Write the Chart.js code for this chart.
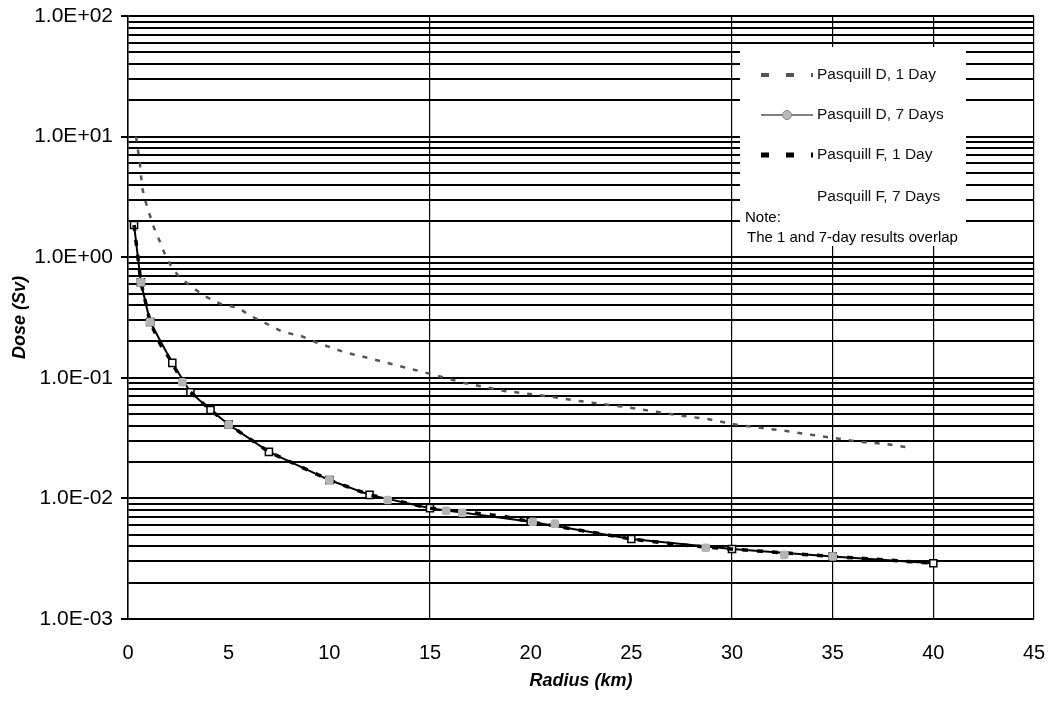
<!DOCTYPE html>
<html>
<head>
<meta charset="utf-8">
<script src="https://cdn.jsdelivr.net/npm/chart.js@4.4.1/dist/chart.umd.min.js"></script>
<style>
  html, body { margin: 0; padding: 0; background: #fff; }
  #chart { display: block; }
</style>
</head>
<body>
<canvas id="chart" width="1051" height="716"></canvas>
<script>
// Pasquill D, 1 Day (upper curve)
const radiusD1 = [0.4, 0.6, 0.7, 0.85, 1.05, 1.3, 1.55, 1.85, 2.2, 2.6, 3.2, 3.7, 4.6, 5.5, 6, 6.8, 7.7, 8.6, 9.4, 10.7, 12, 13.5, 15, 16.7, 18.7, 20.4, 22.4, 24.7, 27.6, 28.8, 30.3, 32.7, 34, 36.4, 37.6, 38.9];
const doseD1 = [10, 5.8, 3.8, 2.98, 2.32, 1.74, 1.39, 1.04, 0.81, 0.67, 0.566, 0.486, 0.41, 0.38, 0.332, 0.285, 0.24, 0.222, 0.195, 0.164, 0.145, 0.125, 0.108, 0.0906, 0.0778, 0.072, 0.0642, 0.0573, 0.0482, 0.0455, 0.0406, 0.0362, 0.0336, 0.0294, 0.0283, 0.0262];

// Pasquill D, 7 Days (solid line, open squares)
const radiusD7 = [0.3, 0.64, 1.1, 2.2, 3.1, 4.1, 5, 7, 10, 12, 15, 20, 25, 30, 35, 40];
const doseD7 = [1.85, 0.62, 0.29, 0.133, 0.076, 0.054, 0.041, 0.0243, 0.0142, 0.0107, 0.0083, 0.0064, 0.0046, 0.0038, 0.0033, 0.0029];

// Pasquill F, 1 Day (black dashes)
const radiusF1 = [0.3, 0.64, 1.1, 1.6, 2.2, 2.7, 3.1, 4.1, 5, 7, 10, 12, 15, 18.7, 20, 25, 27.6, 30, 35, 37.5, 40];
const doseF1 = [1.85, 0.62, 0.29, 0.19, 0.133, 0.092, 0.076, 0.054, 0.041, 0.0243, 0.0142, 0.0107, 0.0083, 0.0071, 0.0064, 0.0046, 0.0041, 0.0038, 0.0033, 0.0031, 0.0029];

// Pasquill F, 7 Days (grey markers)
const radiusF7 = [0.64, 1.1, 2.7, 5, 10, 12.9, 15.8, 16.6, 20.1, 21.2, 28.7, 32.6, 35];
const doseF7 = [0.62, 0.29, 0.092, 0.041, 0.0142, 0.0097, 0.0079, 0.0076, 0.0064, 0.0062, 0.0039, 0.0034, 0.0033];

const seriesLabels = ['Pasquill D, 1 Day', 'Pasquill D, 7 Days', 'Pasquill F, 1 Day', 'Pasquill F, 7 Days'];
const noteLines = ['Note:', 'The 1 and 7-day results overlap'];

const radiusTicks = [0, 5, 10, 15, 20, 25, 30, 35, 40, 45];
// vertical grid lines that survive in the original figure
const radiusGridShown = [0, 15, 30, 35, 40, 45];
const doseDecades = [1e-3, 1e-2, 1e-1, 1e0, 1e1, 1e2];
const doseTicks = [];
doseDecades.forEach((d, i) => {
  for (let m = 1; m <= 9; m++) {
    if (m > 1 && i === doseDecades.length - 1) break;
    doseTicks.push(Number((m * d).toPrecision(3)));
  }
});

const toXY = (xs, ys) => xs.map((x, i) => ({ x, y: ys[i] }));
const isDecade = (v) => Math.abs(Math.log10(v) - Math.round(Math.log10(v))) < 1e-6;
const fmtSci = (v) => {
  const e = Math.round(Math.log10(v));
  return '1.0E' + (e < 0 ? '-' : '+') + String(Math.abs(e)).padStart(2, '0');
};

const FONT = "'Liberation Sans', Arial, sans-serif";

const boxLegend = {
  id: 'boxLegend',
  afterDatasetsDraw(chart) {
    const ctx = chart.ctx;
    const rowY = [75, 115, 155, 197];
    ctx.save();
    ctx.fillStyle = '#fff';
    ctx.fillRect(740, 47, 226, 199);

    chart.data.datasets.forEach((ds, i) => {
      const y = rowY[i];
      if (ds.showLine !== false) {
        ctx.save();
        ctx.strokeStyle = ds.borderColor;
        ctx.lineWidth = ds.borderDash ? ds.borderWidth + 1.5 : 1.2;
        ctx.setLineDash(ds.borderDash ? [8, 17] : []);
        ctx.beginPath();
        ctx.moveTo(761, y);
        ctx.lineTo(813, y);
        ctx.stroke();
        ctx.restore();
      }
      if (ds.showLine !== false && ds.pointRadius > 0) {
        ctx.save();
        ctx.fillStyle = '#bbb';
        ctx.strokeStyle = '#888';
        ctx.lineWidth = 1;
        ctx.beginPath();
        ctx.arc(787, y, 4.5, 0, Math.PI * 2);
        ctx.fill();
        ctx.stroke();
        ctx.restore();
      }
      ctx.fillStyle = '#111';
      ctx.font = '15.5px ' + FONT;
      ctx.textAlign = 'left';
      ctx.textBaseline = 'middle';
      ctx.fillText(ds.label, 817, y);
    });

    ctx.fillStyle = '#000';
    ctx.font = '15px ' + FONT;
    ctx.fillText(noteLines[0], 745, 218);
    ctx.fillText(noteLines[1], 747, 238);
    ctx.restore();
  }
};

new Chart(document.getElementById('chart'), {
  type: 'scatter',
  data: {
    datasets: [
      {
        label: seriesLabels[0],
        data: toXY(radiusD1, doseD1),
        showLine: true,
        borderColor: '#555',
        borderWidth: 2.5,
        borderDash: [5, 8],
        pointRadius: 0,
        order: 4
      },
      {
        label: seriesLabels[1],
        data: toXY(radiusD7, doseD7),
        showLine: true,
        borderColor: '#000',
        borderWidth: 2,
        pointStyle: 'rect',
        pointRadius: 5,
        pointBackgroundColor: '#fff',
        pointBorderColor: '#000',
        pointBorderWidth: 1.5,
        order: 3
      },
      {
        label: seriesLabels[2],
        data: toXY(radiusF1, doseF1),
        showLine: true,
        borderColor: '#000',
        borderWidth: 3.5,
        borderDash: [6, 9],
        pointRadius: 0,
        order: 2
      },
      {
        label: seriesLabels[3],
        data: toXY(radiusF7, doseF7),
        showLine: false,
        pointStyle: 'rectRounded',
        pointRadius: 5,
        pointBackgroundColor: '#b4b4b4',
        pointBorderColor: '#b4b4b4',
        pointBorderWidth: 0,
        order: 1
      }
    ]
  },
  options: {
    responsive: false,
    animation: false,
    devicePixelRatio: 1,
    layout: { padding: { left: 9, right: 17, top: 16, bottom: 24 } },
    plugins: {
      legend: { display: false },
      tooltip: { enabled: false }
    },
    scales: {
      x: {
        type: 'linear',
        min: 0,
        max: 45,
        afterBuildTicks: (scale) => { scale.ticks = radiusTicks.map(v => ({ value: v })); },
        afterFit: (scale) => {
          scale.height = 73;
          scale.paddingLeft = 0;
          scale.paddingRight = 0;
        },
        ticks: {
          color: '#000',
          font: { family: FONT, size: 20 },
          padding: 22,
          maxRotation: 0
        },
        grid: {
          color: (c) => (c.tick && radiusGridShown.includes(c.tick.value)) ? '#000' : 'rgba(0,0,0,0)',
          lineWidth: 1.2,
          drawTicks: false
        },
        border: { color: '#000', width: 1.5 },
        title: {
          display: true,
          text: 'Radius (km)',
          color: '#000',
          font: { family: FONT, size: 18, weight: 'bold', style: 'italic' },
          padding: 0
        }
      },
      y: {
        type: 'logarithmic',
        min: 1e-3,
        max: 100,
        afterBuildTicks: (scale) => { scale.ticks = doseTicks.map(v => ({ value: v })); },
        afterFit: (scale) => {
          scale.width = 119;
          scale.paddingTop = 0;
          scale.paddingBottom = 0;
        },
        ticks: {
          autoSkip: false,
          color: '#000',
          font: { family: FONT, size: 21 },
          padding: 8,
          callback: (v) => isDecade(v) ? fmtSci(v) : ''
        },
        grid: {
          color: '#000',
          lineWidth: 2,
          tickLength: 7,
          tickColor: (c) => (c.tick && isDecade(c.tick.value)) ? '#000' : 'rgba(0,0,0,0)'
        },
        border: { color: '#000', width: 1.5 },
        title: {
          display: true,
          text: 'Dose (Sv)',
          color: '#000',
          font: { family: FONT, size: 18, weight: 'bold', style: 'italic' },
          padding: 0
        }
      }
    }
  },
  plugins: [boxLegend]
});
</script>
</body>
</html>
